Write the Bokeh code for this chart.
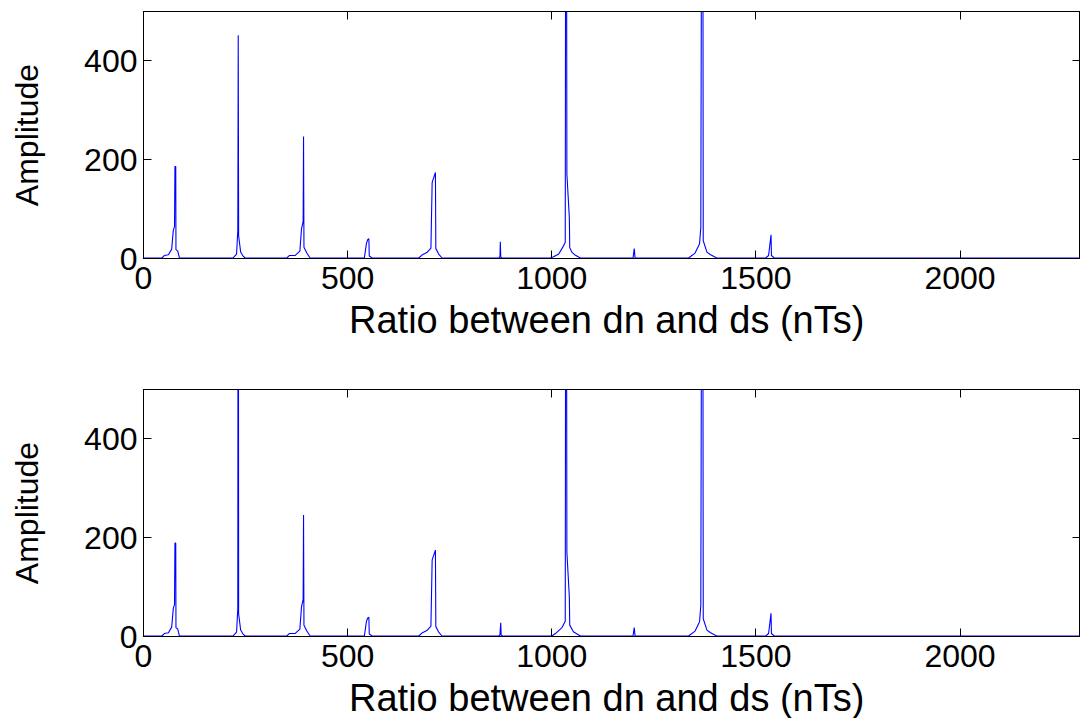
from bokeh.plotting import figure
from bokeh.models import LinearAxis, Range1d, FixedTicker, CustomJSTickFormatter
from bokeh.layouts import column
from bokeh.embed import file_html
from bokeh.resources import INLINE

# ---- data ----
top_x = [0, 45, 51, 61, 69, 73, 76, 77, 79, 79.5, 84, 88,
         219, 228, 231, 232, 233, 238, 243, 249,
         351, 357, 371, 383, 387, 391, 392, 393, 400, 408,
         541, 546, 549, 552, 553, 560,
         674, 682, 694, 704, 707, 715, 716, 723, 731,
         870, 873, 874, 875, 878,
         996, 1003, 1017, 1027, 1033, 1035, 1037, 1043, 1044, 1049, 1057, 1070,
         1199, 1202, 1204,
         1335, 1351, 1362, 1365, 1369, 1371, 1380, 1388, 1404,
         1524, 1531, 1537, 1538, 1545,
         2300]
top_y = [1, 1, 6, 7.5, 19, 57, 65, 186, 186, 18, 15, 1,
         1, 9, 57, 452, 46, 13, 6, 1,
         1, 6, 6, 15, 60, 75, 247, 23, 11, 1,
         1, 30, 38, 40, 5, 1,
         1, 7, 12, 21, 154, 174, 20, 9, 1,
         1, 3, 34, 3, 1,
         1, 3, 9, 23, 33, 1500, 171, 83, 22, 13, 7, 1,
         1, 20, 1,
         1, 11, 30, 63, 1500, 36, 13, 8, 1,
         1, 6, 48, 6, 1,
         1]

bot_x = [0, 45, 51, 61, 69, 73, 76, 77, 79, 79.5, 84, 88,
         219, 228, 231, 232, 233, 238, 243, 249,
         351, 357, 371, 383, 387, 391, 392, 393, 400, 408,
         541, 546, 549, 552, 553, 560,
         674, 682, 694, 704, 707, 715, 716, 723, 731,
         870, 873, 875, 876, 879,
         1000, 1009, 1025, 1033, 1035, 1037, 1043, 1044, 1053, 1070,
         1199, 1202, 1204,
         1335, 1351, 1362, 1365, 1369, 1371, 1380, 1388, 1404,
         1524, 1531, 1537, 1538, 1545,
         2300]
bot_y = [1, 1, 6, 7.5, 19, 57, 65, 189, 189, 18, 15, 1,
         1, 9, 57, 1500, 46, 13, 6, 1,
         1, 6, 6, 15, 60, 75, 246, 23, 11, 1,
         1, 30, 37, 39, 5, 1,
         1, 7, 12, 21, 155, 175, 20, 9, 1,
         1, 3, 28, 3, 1,
         1, 6, 18, 31, 1500, 171, 80, 23, 9.5, 1,
         1, 18, 1,
         1, 11, 30, 63, 1500, 36, 13, 8, 1,
         1, 6, 47, 6, 1,
         1]

x_ticks = [0, 500, 1000, 1500, 2000]
y_ticks = [0, 200, 400]
x_label = "Ratio between dn and ds  (nTs)"
y_label = "Amplitude"

FONT = "Liberation Sans"
FS = "32px"
XFS = "38px"


def blank_axis(ticks):
    return LinearAxis(ticker=FixedTicker(ticks=ticks),
                      formatter=CustomJSTickFormatter(code="return ''"),
                      major_label_text_font_size="0px", major_label_standoff=0,
                      major_tick_in=8, major_tick_out=0,
                      minor_tick_line_color=None,
                      axis_line_color="black", major_tick_line_color="black")


def make(xs, ys, height, top_border, bottom_border):
    p = figure(width=1080, height=height, output_backend="svg", toolbar_location=None,
               x_range=Range1d(0, 2295), y_range=Range1d(0, 500),
               x_axis_location=None, y_axis_location=None,
               min_border_left=143, min_border_right=0, min_border_top=top_border,
               min_border_bottom=bottom_border)
    p.grid.grid_line_color = None
    p.grid.visible = False
    p.outline_line_color = "black"
    p.background_fill_color = "white"
    p.border_fill_color = "white"
    p.line(xs, ys, line_color="#0000ff", line_width=1.1)

    xa = LinearAxis(ticker=FixedTicker(ticks=x_ticks), axis_label=x_label,
                    major_tick_in=8, major_tick_out=0, minor_tick_line_color=None,
                    axis_line_color="black", major_tick_line_color="black",
                    major_label_text_font=FONT, major_label_text_font_size=FS,
                    major_label_text_color="black", major_label_standoff=8,
                    axis_label_text_font=FONT, axis_label_text_font_size=XFS,
                    axis_label_text_font_style="normal", axis_label_text_color="black",
                    axis_label_standoff=7)
    ya = LinearAxis(ticker=FixedTicker(ticks=y_ticks), axis_label=y_label,
                    major_tick_in=8, major_tick_out=0, minor_tick_line_color=None,
                    axis_line_color="black", major_tick_line_color="black",
                    major_label_text_font=FONT, major_label_text_font_size=FS,
                    major_label_text_color="black", major_label_standoff=6,
                    axis_label_text_font=FONT, axis_label_text_font_size=FS,
                    axis_label_text_font_style="normal", axis_label_text_color="black",
                    axis_label_standoff=36)
    p.add_layout(xa, "below")
    p.add_layout(ya, "left")
    p.add_layout(blank_axis(x_ticks), "above")
    p.add_layout(blank_axis(y_ticks), "right")
    return p


p1 = make(top_x, top_y, 386, 11, 128)
p2 = make(bot_x, bot_y, 344, 3, 94)
layout = column(p1, p2, spacing=0, styles={"margin-bottom": "-40px"})

open("out.html", "w").write(file_html(layout, INLINE))
